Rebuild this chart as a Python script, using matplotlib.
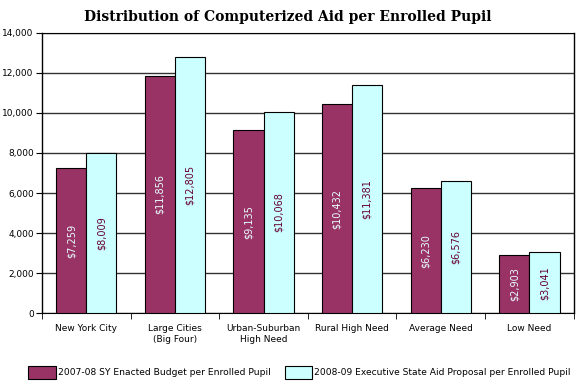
import matplotlib.pyplot as plt
import numpy as np

categories = ['New York City', 'Large Cities\n(Big Four)', 'Urban-Suburban\nHigh Need',
              'Rural High Need', 'Average Need', 'Low Need']
enacted_0708 = [7259, 11856, 9135, 10432, 6230, 2903]
proposal_0809 = [8009, 12805, 10068, 11381, 6576, 3041]
series_names = ['2007-08 SY Enacted Budget per Enrolled Pupil',
                '2008-09 Executive State Aid Proposal per Enrolled Pupil']

maroon = '#993366'
cyan = '#CCFFFF'

fig = plt.figure(figsize=(5.76, 3.87), dpi=100)
ax = fig.add_axes([0.073, 0.191, 0.923, 0.724])

x = np.arange(len(categories))
w = 0.34
b1 = ax.bar(x - w / 2, enacted_0708, w, color=maroon, edgecolor='black', linewidth=0.8,
            label=series_names[0], zorder=3)
b2 = ax.bar(x + w / 2, proposal_0809, w, color=cyan, edgecolor='black', linewidth=0.8,
            label=series_names[1], zorder=3)

for bars, vals, tc in [(b1, enacted_0708, '#E8FFFF'), (b2, proposal_0809, '#660033')]:
    for rect, v in zip(bars, vals):
        ax.text(rect.get_x() + rect.get_width() / 2, v / 2, f'${v:,}', rotation=90,
                ha='center', va='center', fontsize=7, color=tc, zorder=4)

ax.set_ylim(0, 14000)
ax.set_xlim(-0.5, len(categories) - 0.5)
ax.set_yticks(range(0, 14001, 2000))
ax.set_yticklabels([f'{v:,}' for v in range(0, 14001, 2000)], fontsize=6.5)
ax.yaxis.grid(True, color='#333333', linewidth=1.0, zorder=0)
ax.set_axisbelow(True)

ax.set_xticks(x)
ax.set_xticklabels(categories, fontsize=6.5)
ax.tick_params(axis='x', length=0, pad=8)
ax.set_xticks(np.arange(-0.5, len(categories), 1), minor=True)
ax.tick_params(axis='x', which='minor', length=4, direction='out')
ax.tick_params(axis='y', length=4, direction='out', pad=2)

ax.spines['top'].set_linestyle((0, (2, 1)))
ax.spines['bottom'].set_linestyle((0, (2, 1)))
ax.spines['right'].set_linewidth(1.0)
ax.spines['left'].set_linewidth(1.0)

fig.suptitle('Distribution of Computerized Aid per Enrolled Pupil', family='DejaVu Serif',
             fontweight='bold', fontsize=10, y=0.975)

fig.legend(handles=[b1, b2], loc='lower center', bbox_to_anchor=(0.52, 0.0), ncol=2,
           frameon=False, fontsize=6.6, handlelength=3.0, handleheight=1.8,
           handletextpad=0.2, columnspacing=1.6)

fig.savefig('out.png', dpi=100)
